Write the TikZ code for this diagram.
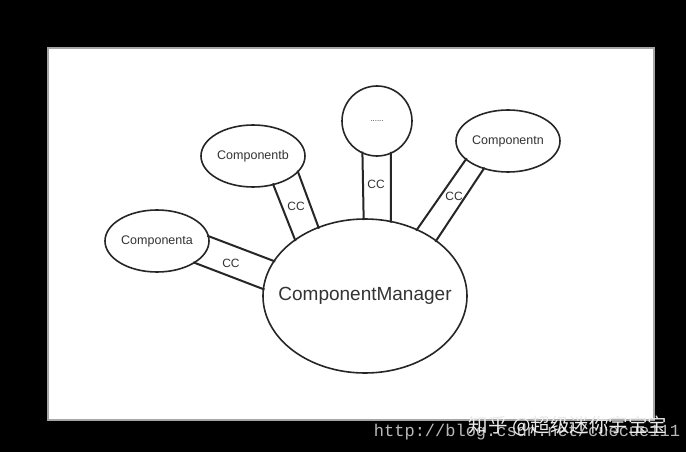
\documentclass[tikz,border=0pt]{standalone}
\usepackage{fontspec}
\setmainfont{Liberation Sans}
\newfontfamily\cjkfont{Noto Sans CJK SC}
\newfontfamily\urlfont{Liberation Mono}
\usetikzlibrary{shapes.geometric}

\tikzset{
	comp/.style={draw=black!85, ellipse, line width=1.6pt, inner sep=0pt,
			minimum width=104pt, minimum height=62pt, text=black!80,
			font=\fontsize{12.5}{14}\selectfont},
	link/.style={draw=black!85, line width=2pt, shorten <=-2pt, shorten >=-2pt},
	cclabel/.style={text=black!80, font=\fontsize{12}{14}\selectfont},
}

\begin{document}
\begin{tikzpicture}[x=1pt, y=-1pt]
		\useasboundingbox (0,0) rectangle (686,452);
		\fill[black] (0,0) rectangle (686,452);
		\filldraw[fill=white, draw=gray!70, line width=1.5pt] (48,48) rectangle (654,420);

		% components
		\node[comp, minimum width=204pt, minimum height=154pt,
			label={[text=black!80, font=\fontsize{19}{22}\selectfont]center:ComponentManager}] (mgr) at (365,296) {};
		\node[comp] (compa) at (157,241) {Componenta};
		\node[comp] (compb) at (253,156) {Componentb};
		\node[comp, minimum width=70pt, minimum height=70pt,
			font=\fontsize{8}{9}\selectfont] (dots) at (377,121) {......};
		\node[comp] (compn) at (508,141) {Componentn};

		% CC links
		\draw[link] (compa.5) -- (mgr.159);
		\draw[link] (compa.-30) -- (mgr.176);
		\node[cclabel] (cca) at (231,263) {CC};

		\draw[link] (compb.-55) -- (mgr.141);
		\draw[link] (compb.-20) -- (mgr.124);
		\node[cclabel] (ccb) at (296,206) {CC};

		\draw[link] (dots.-114) -- (mgr.91.5);
		\draw[link] (dots.-67) -- (mgr.71.6);
		\node[cclabel] (ccd) at (376,184) {CC};

		\draw[link] (compn.-156) -- (mgr.52);
		\draw[link] (compn.-131) -- (mgr.38);
		\node[cclabel] (ccn) at (454,196) {CC};

		% watermark
		\node[text=gray!55!white, font=\urlfont\fontsize{17}{18}\selectfont] (url) at (527,432) {http://blog.csdn.net/cuecue111};
		\node[text=white!92!black, font=\cjkfont\fontsize{19.5}{20}\selectfont] (zhihu) at (568,426) {知乎 @超级迷你宇宝宝};
	\end{tikzpicture}
\end{document}
